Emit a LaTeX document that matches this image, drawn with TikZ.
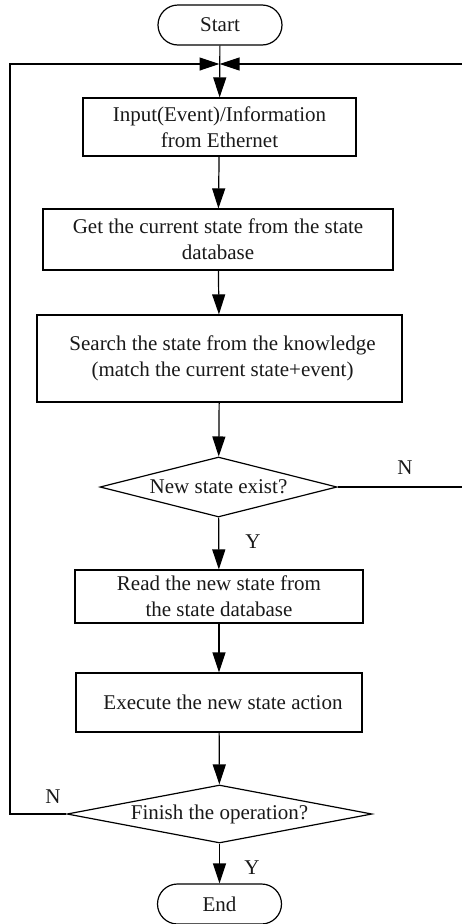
\documentclass[tikz,border=0pt]{standalone}
\usepackage{fontspec}
\setmainfont{Liberation Serif}
\usetikzlibrary{shapes.geometric,arrows.meta}
\begin{document}
\begin{tikzpicture}[x=1pt,y=-1pt,
  every node/.style={font=\fontsize{21}{26}\selectfont, text=black!90},
  line width=1.2pt,
  arr/.style={-{Triangle[length=20pt,width=13pt]}},
  term/.style={draw, rounded corners=20pt, minimum width=124pt, minimum height=40pt, inner sep=0pt},
  proc/.style={draw, align=center, inner sep=0pt},
  dec/.style={draw, shape=diamond, inner sep=0pt, aspect=4},
  lbl/.style={inner sep=0pt}]
\useasboundingbox (0,0) rectangle (462,924);
\node[term] (start) at (220,25) {Start};
\coordinate (j) at (219.5,64);
\node[proc, minimum width=273pt, minimum height=58pt] (b1) at (219.5,127) {Input(Event)/Information\\from Ethernet};
\node[proc, minimum width=350pt, minimum height=61pt] (b2) at (218,239.5) {Get the current state from the state\\database};
\node[proc, minimum width=365pt, minimum height=87pt] (b3) at (219.5,358.5) {\hspace*{6pt}Search the state from the knowledge\\\hspace*{6pt}(match the current state+event)};
\node[dec, minimum width=237pt, minimum height=60pt] (d1) at (218.5,487) {New state exist?};
\node[proc, minimum width=288pt, minimum height=53pt] (b4) at (219,596.5) {Read the new state from\\the state database};
\node[proc, minimum width=286pt, minimum height=59pt] (b5) at (219,702.5) {\hspace*{8pt}Execute the new state action};
\node[dec, minimum width=305pt, minimum height=58pt, aspect=5] (d2) at (219.5,814) {Finish the operation?};
\node[term] (end) at (219.5,904) {End};
\coordinate (lc) at (10,64);
\coordinate (rc) at (463,64);
\draw[arr] (start) -- (b1);
\draw[arr] (b1) -- (b2);
\draw[arr] (b2) -- (b3);
\draw[arr] (b3) -- (d1);
\draw[arr] (d1) -- (b4);
\draw[arr] (b4) -- (b5);
\draw[arr] (b5) -- (d2);
\draw[arr] (d2) -- (end);
\draw[arr] (d2.west) -| (lc) -- (j);
\draw[arr] (d1.east) -| (rc) -- (j);
\node[lbl] (y1) at (253,542) {Y};
\node[lbl] (n1) at (405,468) {N};
\node[lbl] (n2) at (53,797) {N};
\node[lbl] (y2) at (252,868) {Y};
\end{tikzpicture}
\end{document}
